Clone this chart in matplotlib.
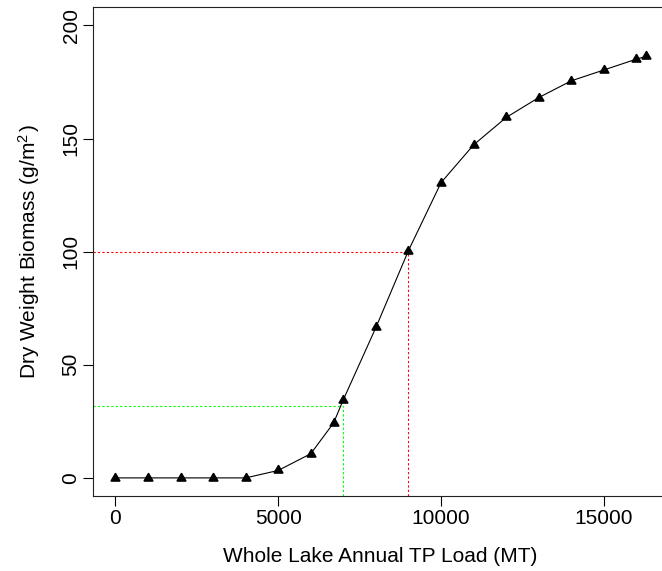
import matplotlib
matplotlib.use("Agg")
import matplotlib.pyplot as plt

plt.rcParams['font.family'] = ['Liberation Sans', 'DejaVu Sans']
plt.rcParams['mathtext.fontset'] = 'custom'
plt.rcParams['mathtext.rm'] = 'Liberation Sans'
plt.rcParams['mathtext.it'] = 'Liberation Sans:italic'

# Data
tp_load = [0, 1000, 2000, 3000, 4000, 5000, 6000, 6700, 7000, 8000, 9000,
           10000, 11000, 12000, 13000, 14000, 15000, 16000, 16300]
biomass = [0, 0, 0, 0, 0, 3.3, 10.7, 24.3, 34.6, 66.5, 100.5,
           130.5, 147.2, 159.3, 168.1, 175.5, 180.3, 185.1, 186.3]
x_ticks = [0, 5000, 10000, 15000]
y_ticks = [0, 50, 100, 150, 200]
red_ref = (9000, 100)
green_ref = (7000, 32)

W, H = 662, 571
fig = plt.figure(figsize=(W / 100, H / 100), dpi=100)
left_px, right_px, top_px, bottom_px = 93.3, 668.0, 7.3, 496.0
ax = fig.add_axes([left_px / W, 1 - bottom_px / H,
                   (right_px - left_px) / W, (bottom_px - top_px) / H])

xlim = (-680, 16970)
ylim = (-8, 208)
ax.set_xlim(*xlim)
ax.set_ylim(*ylim)

ax.plot(tp_load, biomass, color='black', lw=0.8, marker=(3, 0, 0),
        ms=7.5, mfc='black', mec='black', zorder=3)

dash = (0, (2, 2))
ax.plot([xlim[0], red_ref[0]], [red_ref[1], red_ref[1]], color='#FF0000',
        lw=0.8, ls=dash, zorder=2)
ax.plot([red_ref[0], red_ref[0]], [ylim[0], red_ref[1]], color='#FF0000',
        lw=0.8, ls=dash, zorder=2)
ax.plot([xlim[0], green_ref[0]], [green_ref[1], green_ref[1]], color='#00FF00',
        lw=0.8, ls=dash, zorder=2)
ax.plot([green_ref[0], green_ref[0]], [ylim[0], green_ref[1]], color='#00FF00',
        lw=0.8, ls=dash, zorder=2)

ax.set_xticks(x_ticks)
ax.set_xticklabels([str(v) for v in x_ticks])
ax.set_yticks(y_ticks)
ax.set_yticklabels([str(v) for v in y_ticks], rotation=90, va='center')
ax.tick_params(direction='out', length=7.2, width=0.8, labelsize=15,
               colors='black', pad=2.0)
for s in ax.spines.values():
    s.set_linewidth(0.8)
    s.set_color('#222222')
ax.spines['right'].set_visible(False)

ax.set_xlabel('Whole Lake Annual TP Load (MT)', fontsize=15, labelpad=14)
ax.set_ylabel(r'Dry Weight Biomass (g/m$^{2\,}$)', fontsize=15, labelpad=14)

fig.savefig('out.png', dpi=100)
